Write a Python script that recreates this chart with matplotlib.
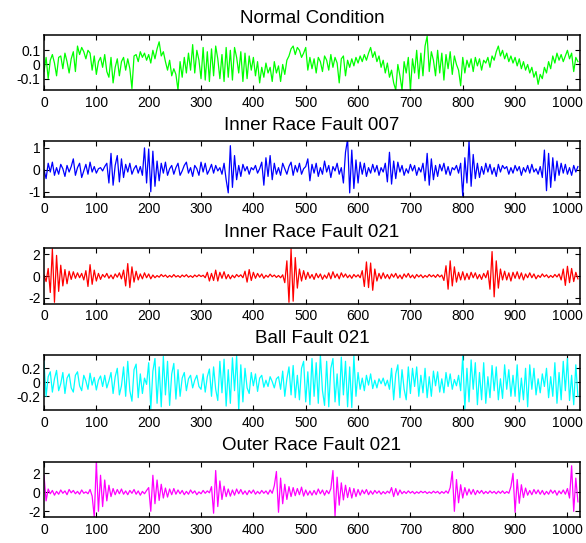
import numpy as np
import matplotlib
matplotlib.use("Agg")
import matplotlib.pyplot as plt

plt.rcParams['font.family'] = ['Liberation Sans', 'DejaVu Sans']
plt.rcParams['axes.unicode_minus'] = False

titles = ["Normal Condition", "Inner Race Fault 007", "Inner Race Fault 021",
          "Ball Fault 021", "Outer Race Fault 021"]
colors = ["#00ff00", "#0000ff", "#ff0000", "#00ffff", "#ff00ff"]
step = 4  # sample spacing of the read-off points

normal = [
    -0.05, 0.05, -0.10, 0.03, 0.07, 0.01, -0.08, 0.05,
    0.06, -0.03, 0.08, 0.02, -0.06, 0.04, 0.09, -0.05,
    0.13, 0.07, 0.12, 0.09, 0.04, 0.10, 0.08, -0.04,
    0.06, -0.07, 0.02, 0.05, -0.02, 0.07, -0.05, -0.09,
    0.05, -0.13, -0.02, 0.04, -0.08, 0.02, 0.05, -0.04,
    0.04, -0.03, -0.17, 0.06, 0.07, 0.02, 0.09, 0.05,
    0.08, 0.03, 0.07, 0.01, 0.10, 0.04, 0.11, 0.16,
    0.06, 0.09, 0.02, -0.04, 0.03, -0.08, -0.03, -0.07,
    -0.18, 0.02, -0.09, 0.05, -0.06, 0.08, -0.04, 0.14,
    -0.06, 0.10, 0.03, -0.10, 0.12, -0.11, 0.09, -0.12,
    0.11, -0.08, 0.13, 0.04, -0.10, 0.07, -0.12, 0.12,
    -0.09, 0.10, -0.11, 0.12, 0.05, -0.06, 0.09, -0.12,
    0.08, -0.10, 0.06, -0.04, 0.05, -0.08, 0.02, -0.13,
    -0.02, -0.09, 0.01, -0.06, -0.02, -0.12, 0.02, -0.06,
    -0.01, -0.12, 0.00, -0.07, 0.03, 0.06, 0.11, 0.13,
    0.07, 0.12, 0.10, 0.05, 0.08, 0.12, -0.04, 0.05,
    -0.03, 0.04, -0.06, 0.05, 0.02, -0.05, 0.06, 0.03,
    -0.04, 0.07, -0.02, 0.05, 0.01, -0.13, 0.04, 0.06,
    -0.08, 0.03, -0.02, 0.04, -0.01, 0.05, 0.01, 0.06,
    0.02, 0.07, 0.03, 0.08, 0.12, 0.05, 0.09, 0.02,
    0.06, -0.02, 0.03, -0.06, 0.01, -0.09, -0.04, -0.13,
    -0.18, 0.00, -0.08, -0.18, 0.02, -0.06, 0.05, -0.18,
    0.04, -0.06, 0.10, -0.10, 0.08, -0.08, 0.13, 0.20,
    -0.05, 0.09, 0.03, -0.08, 0.10, -0.06, 0.08, -0.11,
    0.07, -0.03, 0.09, -0.07, 0.06, 0.00, -0.04, -0.15,
    0.05, -0.06, 0.03, -0.02, 0.04, -0.05, 0.05, -0.01,
    0.04, -0.04, 0.03, 0.01, 0.05, -0.02, 0.06, 0.03,
    0.09, 0.13, 0.06, 0.10, 0.04, 0.08, 0.02, 0.06,
    0.01, 0.05, -0.01, 0.04, -0.03, 0.02, -0.04, 0.00,
    -0.06, -0.02, -0.09, -0.05, -0.14, -0.07, -0.10, -0.02,
    -0.06, 0.02, -0.03, 0.06, 0.01, 0.08, 0.03, 0.07,
    0.02, 0.06, 0.10, 0.04, 0.08, -0.05, 0.05, 0.02,
]

inner007 = [
    0.0, -0.4, 0.3, -0.1, 0.35, -0.25, 0.1, -0.2,
    0.25, 0.05, -0.3, 0.2, -0.1, 0.15, 0.5, -0.25,
    0.1, 0.3, -0.35, -0.05, 0.25, -0.2, 0.35, -0.1,
    0.15, -0.15, 0.05, 0.1, -0.05, 0.15, 0.3, -0.6,
    0.75, -0.7, 0.2, 0.65, -0.55, 0.5, -0.35, 0.25,
    -0.1, 0.3, -0.2, 0.05, 0.2, -0.15, 0.15, -0.25,
    1.0, -0.6, 0.95, -1.0, 0.85, -0.75, 0.4, -0.5,
    0.3, -0.15, 0.35, -0.25, 0.05, 0.2, -0.2, 0.1,
    0.3, -0.25, -0.05, 0.2, 0.35, -0.15, 0.1, -0.3,
    0.2, 0.05, -0.25, 0.35, -0.1, 0.3, -0.2, 0.0,
    0.25, -0.15, 0.2, -0.05, 0.1, -0.2, 0.3, -0.45,
    -1.05, 1.1, -0.8, 0.65, -0.45, 0.2, -0.3, 0.25,
    -0.05, 0.15, -0.2, 0.1, 0.0, 0.2, -0.15, 0.05,
    0.35, -0.7, 0.55, -0.3, 0.65, -0.45, 0.3, -0.2,
    0.1, -0.25, 0.3, 0.05, -0.2, 0.15, 0.35, -0.25,
    0.2, -0.1, 0.3, -0.2, 0.05, 0.15, 0.5, -0.5,
    0.25, -0.15, 0.3, -0.3, 0.1, -0.2, 0.4, -0.1,
    0.2, -0.35, 0.15, -0.05, 0.3, -0.2, 0.1, -0.6,
    0.8, 1.4, -1.05, 0.9, -0.85, 0.45, -0.6, 0.35,
    -0.2, 0.3, -0.3, 0.1, -0.15, 0.25, -0.1, 0.2,
    -0.25, 0.1, -0.1, 0.3, -0.55, 0.8, -0.65, 0.4,
    -0.4, 0.35, -0.1, 0.2, -0.25, 0.05, -0.15, 0.25,
    -0.05, 0.2, -0.25, 0.1, -0.1, 0.3, -0.5, 0.75,
    -0.7, 0.5, -0.45, 0.2, -0.3, 0.25, -0.05, 0.3,
    -0.2, 0.15, -0.25, 0.1, 0.0, 0.2, -0.15, 0.3,
    -1.2, 0.55, -0.6, 1.3, -0.75, 0.7, -0.4, 0.3,
    -0.35, 0.15, -0.2, 0.3, -0.1, 0.25, -0.2, 0.1,
    -0.3, 0.25, -0.1, 0.2, 0.05, 0.15, -0.2, 0.1,
    -0.15, 0.2, -0.05, 0.15, -0.25, 0.1, -0.1, 0.2,
    -0.15, 0.25, -0.1, 0.05, -0.2, 0.15, -0.35, 0.9,
    -0.95, 0.75, -0.8, 0.55, -0.5, 0.4, -0.25, 0.3,
    -0.15, 0.25, -0.2, 0.1, -0.25, 0.2, -0.1, 0.15,
]

inner021 = [
    0.1, -0.5, 0.7, -1.5, 2.5, -2.4, 1.9, -1.4,
    1.0, -0.9, 0.6, -0.7, 0.45, -0.3, 0.4, -0.2,
    0.3, -0.15, 0.25, -0.35, 0.5, -0.95, 1.05, -0.75,
    0.55, -0.45, 0.25, -0.3, 0.15, -0.1, 0.25, -0.2,
    0.1, -0.25, 0.2, -0.1, 0.3, -0.25, 0.55, -0.9,
    1.15, -1.05, 0.85, -0.55, 0.45, -0.35, 0.2, -0.25,
    0.3, -0.15, 0.2, -0.25, 0.1, -0.15, 0.05, -0.1,
    0.15, -0.05, 0.1, -0.12, 0.06, -0.1, 0.14, -0.08,
    0.05, -0.12, 0.1, -0.06, 0.13, -0.1, 0.04, -0.12,
    0.1, -0.06, 0.12, -0.04, 0.08, -0.15, 0.35, -0.45,
    0.25, -0.4, 0.55, -0.45, 0.35, -0.2, 0.4, -0.25,
    0.15, -0.25, 0.08, -0.15, 0.15, -0.06, 0.12, -0.15,
    0.45, -0.55, 0.6, -0.4, 0.35, -0.2, 0.25, -0.1,
    0.2, -0.2, 0.08, -0.1, 0.18, -0.06, 0.1, -0.12,
    0.06, -0.15, 0.12, -0.6, 1.4, -2.4, 2.5, -2.3,
    1.7, -1.1, 0.65, -0.45, 0.5, -0.3, 0.35, -0.2,
    0.15, -0.3, 0.25, -0.15, 0.2, -0.3, 0.1, -0.2,
    0.3, -0.25, 0.4, -0.15, 0.2, -0.25, 0.3, -0.1,
    0.2, -0.15, 0.1, -0.2, 0.15, -0.08, 0.12, -0.15,
    0.5, -0.95, 1.3, -1.05, 1.2, -1.3, 0.65, -0.45,
    0.25, -0.25, 0.3, -0.2, 0.15, -0.25, 0.2, -0.1,
    0.25, -0.2, 0.1, -0.25, 0.2, -0.1, 0.25, -0.15,
    0.1, -0.2, 0.15, -0.08, 0.12, -0.15, 0.06, -0.1,
    0.15, -0.06, 0.1, -0.12, 0.15, -0.08, 0.1, -0.4,
    0.95, -1.2, 1.4, -0.9, 0.85, -0.55, 0.35, -0.35,
    0.4, -0.35, 0.25, -0.3, 0.35, -0.15, 0.3, -0.25,
    0.15, -0.3, 0.25, -0.15, 0.5, -1.2, 2.25, -1.9,
    1.4, -1.1, 0.65, -0.35, 0.45, -0.35, 0.3, -0.45,
    0.35, -0.2, 0.4, -0.25, 0.3, -0.35, 0.2, -0.15,
    0.3, -0.15, 0.2, -0.25, 0.08, -0.12, 0.2, -0.06,
    0.12, -0.15, 0.06, -0.12, 0.15, -0.08, 0.2, -0.35,
    0.65, -0.85, 0.9, -0.6, 0.7, -0.5, 0.35, -0.25,
]

ball021 = [
    0.3, -0.2, 0.08, 0.15, -0.14, 0.05, 0.17, -0.12,
    -0.02, 0.14, -0.16, 0.06, 0.12, -0.08, -0.14, 0.1,
    0.15, -0.05, -0.12, 0.1, 0.02, -0.1, 0.13, -0.04,
    0.07, -0.11, 0.03, 0.09, -0.06, 0.1, -0.08, 0.02,
    0.14, -0.16, 0.08, 0.2, -0.18, -0.05, 0.22, -0.2,
    0.3, -0.12, -0.27, 0.18, 0.26, -0.22, 0.12, -0.16,
    0.06, -0.03, 0.28, -0.38, 0.16, 0.34, -0.3, 0.22,
    -0.35, 0.37, -0.18, 0.3, -0.33, 0.12, 0.27, -0.24,
    0.18, -0.2, 0.06, 0.14, -0.12, 0.05, 0.1, -0.08,
    0.03, 0.1, -0.06, -0.1, 0.12, -0.14, 0.08, 0.19,
    -0.2, 0.22, -0.1, -0.26, 0.3, -0.15, 0.33, -0.34,
    0.18, -0.3, 0.35, -0.12, 0.38, -0.4, 0.25, -0.28,
    0.2, -0.08, -0.16, 0.14, -0.05, 0.12, -0.13, 0.06,
    0.1, -0.07, 0.03, -0.06, 0.08, 0.01, -0.08, 0.05,
    0.08, -0.1, 0.16, -0.2, 0.05, 0.22, -0.18, 0.24,
    -0.22, 0.1, -0.25, 0.2, 0.3, -0.28, 0.15, -0.32,
    0.34, -0.2, 0.28, -0.3, 0.39, -0.12, -0.33, 0.3,
    -0.35, 0.2, 0.34, -0.28, 0.12, -0.33, 0.36, -0.18,
    0.3, -0.35, 0.22, -0.36, 0.38, -0.2, 0.14, -0.1,
    0.06, -0.12, 0.1, -0.04, 0.12, -0.09, 0.03, -0.08,
    0.05, -0.02, 0.06, -0.05, 0.03, -0.1, 0.2, -0.25,
    0.12, 0.25, -0.22, 0.18, -0.1, -0.25, 0.22, -0.16,
    0.2, -0.06, 0.22, -0.2, 0.1, -0.15, 0.2, -0.22,
    0.08, -0.2, 0.16, -0.05, 0.15, -0.14, 0.05, -0.15,
    0.14, -0.06, 0.12, -0.1, 0.04, -0.05, 0.1, -0.12,
    0.38, -0.38, 0.2, -0.28, 0.32, -0.1, 0.28, -0.32,
    0.14, -0.25, 0.28, -0.3, 0.08, -0.22, 0.24, -0.12,
    0.22, -0.25, 0.05, -0.23, 0.25, -0.1, 0.18, -0.2,
    0.1, -0.2, 0.25, -0.28, 0.06, -0.25, 0.2, -0.35,
    0.25, -0.1, 0.2, -0.18, 0.05, -0.15, 0.12, -0.06,
    0.2, -0.22, 0.08, -0.2, 0.28, -0.3, 0.14, -0.25,
    0.3, -0.12, 0.34, -0.26, 0.1, -0.32, 0.25, -0.2,
]

outer021 = [
    1.8, -0.9, 0.35, -0.15, 0.2, -0.3, 0.1, -0.2,
    0.25, -0.1, 0.15, -0.25, 0.3, -0.05, 0.2, -0.15,
    0.1, -0.2, 0.25, -0.1, 0.05, -0.15, 0.3, -0.4,
    -2.6, 3.2, -2.0, 1.8, -1.5, 1.3, -0.9, 0.75,
    -0.45, 0.4, -0.25, 0.3, -0.15, 0.35, -0.2, 0.15,
    -0.25, 0.2, -0.1, 0.3, -0.2, 0.15, -0.3, 0.1,
    -0.15, 0.2, 0.5, -2.0, 1.8, -1.2, 1.3, -0.85,
    0.85, -0.6, 0.45, -0.5, 0.35, -0.25, 0.4, -0.2,
    0.25, -0.15, 0.2, -0.25, 0.1, -0.2, 0.25, -0.1,
    0.15, -0.25, 0.05, -0.15, 0.2, -0.1, 0.15, -0.05,
    0.6, -2.2, 2.3, -1.5, 1.2, -0.75, 0.65, -0.45,
    0.35, -0.4, 0.25, -0.3, 0.35, -0.15, 0.3, -0.2,
    0.15, -0.25, 0.2, -0.1, 0.25, -0.2, 0.1, -0.15,
    0.2, -0.1, 0.15, -0.2, 0.25, -0.1, 0.7, 2.2,
    -2.1, 1.5, -1.2, 0.85, -0.75, 0.6, -0.45, 0.5,
    -0.35, 0.4, -0.25, 0.55, -0.4, 0.25, -0.3, 0.15,
    -0.3, 0.2, -0.25, 0.35, -0.15, 0.25, -0.3, 0.2,
    -0.15, 0.4, 2.3, -2.5, 1.6, -1.35, 1.0, -0.8,
    0.75, -0.55, 0.5, -0.6, 0.4, -0.45, 0.3, -0.3,
    0.25, -0.15, 0.3, -0.25, 0.15, -0.2, 0.2, -0.1,
    0.15, -0.2, 0.08, -0.15, 0.12, -0.08, 0.5, -0.45,
    0.4, -0.3, 0.25, -0.15, 0.1, -0.12, 0.15, -0.08,
    0.1, -0.15, 0.06, -0.1, 0.12, -0.05, 0.1, -0.12,
    0.05, -0.1, 0.12, -0.06, 0.1, -0.15, 0.08, -0.1,
    0.15, -0.1, 0.5, 2.2, -2.0, 1.35, -1.1, 0.8,
    -0.6, 0.5, -0.3, 0.35, -0.2, 0.3, -0.25, 0.2,
    -0.1, 0.2, -0.15, 0.1, -0.12, 0.15, -0.08, 0.1,
    -0.15, 0.12, -0.1, 0.15, -0.12, 0.08, -0.1, 0.6,
    2.0, -2.1, 1.35, -1.15, 0.8, -0.55, 0.45, -0.3,
    0.2, -0.25, 0.3, -0.15, 0.25, -0.2, 0.2, -0.25,
    0.1, -0.2, 0.25, -0.1, 0.2, -0.3, 0.15, -0.15,
    0.25, -0.2, 0.4, -0.6, 2.8, -2.0, 1.5, -1.0,
]

series = [normal, inner007, inner021, ball021, outer021]
ylims = [(-0.18, 0.21), (-1.22, 1.3), (-2.52, 2.55), (-0.40, 0.39), (-2.6, 3.23)]
yticks = [[-0.1, 0, 0.1], [-1, 0, 1], [-2, 0, 2], [-0.2, 0, 0.2], [-2, 0, 2]]
yticklabels = [["-0.1", "0", "0.1"], ["-1", "0", "1"], ["-2", "0", "2"],
               ["-0.2", "0", "0.2"], ["-2", "0", "2"]]
xticks = list(range(0, 1001, 100))

W, H = 586, 543
fig = plt.figure(figsize=(W / 100, H / 100), dpi=100)
tops_px = [34.7, 141.3, 248.3, 355.0, 461.7]
ax_h_px = 55.3
left_px, right_px = 44, 580

for i in range(5):
    y0 = 1 - (tops_px[i] + ax_h_px) / H
    ax = fig.add_axes([left_px / W, y0, (right_px - left_px) / W, ax_h_px / H])
    vals = np.array(series[i])
    xs = np.arange(len(vals)) * step
    ax.plot(xs, vals, color=colors[i], lw=0.9)
    ax.set_xlim(0, 1024)
    ax.set_ylim(*ylims[i])
    ax.set_xticks(xticks)
    ax.set_xticklabels([str(t) for t in xticks])
    ax.set_yticks(yticks[i])
    ax.set_yticklabels(yticklabels[i])
    ax.tick_params(direction='in', top=True, right=True, length=3.5, width=0.8,
                   labelsize=10, colors='black')
    ax.tick_params(axis='x', pad=4)
    ax.tick_params(axis='y', pad=2.5)
    for s in ax.spines.values():
        s.set_linewidth(1.1)
    ax.set_title(titles[i], fontsize=13.5, pad=8.3)

fig.savefig("out.png", dpi=100)
